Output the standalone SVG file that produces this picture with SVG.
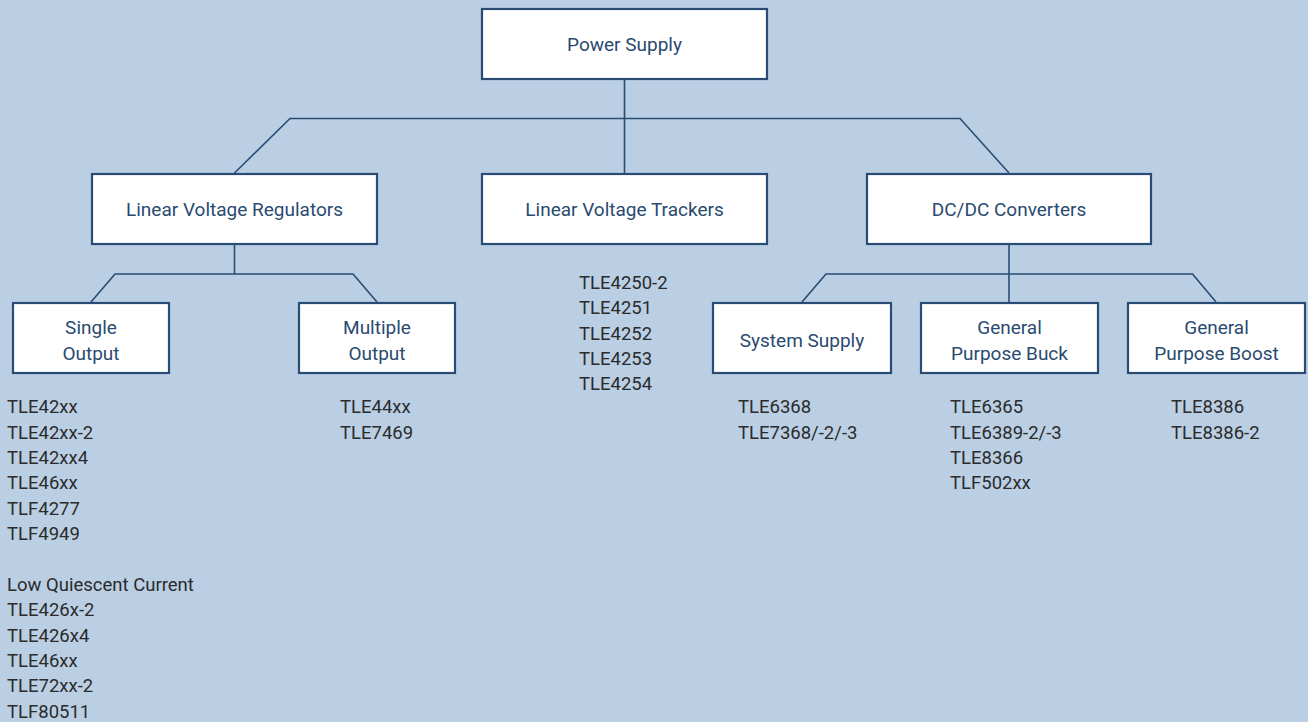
<svg xmlns="http://www.w3.org/2000/svg" width="1308" height="722" viewBox="0 0 1308 722">
<style>
.box{fill:#ffffff;stroke:#284c74;stroke-width:2.2}
.lbl{font-family:Roboto,"Liberation Sans",sans-serif;font-size:19px;fill:#2a4a70;text-anchor:middle}
.lst{font-family:Roboto,"Liberation Sans",sans-serif;font-size:18.5px;fill:#2b2b2b}
.con{fill:none;stroke:#284c74;stroke-width:1.6}
</style>
<rect x="0" y="0" width="1308" height="722" fill="#bacfe3"/>
<g id="connectors">
<path class="con" d="M624.5,80 V173"/>
<path class="con" d="M234.5,173 L290,118.5 H960 L1009,173"/>
<path class="con" d="M234.5,245 V274"/>
<path class="con" d="M91,302 L115,274 H353 L377,302"/>
<path class="con" d="M1009,245 V302"/>
<path class="con" d="M802,302 L826,274 H1192.5 L1216,302"/>
</g>
<g id="power-supply">
<rect class="box" x="482" y="9" width="285" height="70"/>
<text class="lbl" x="624.5" y="50.5">Power Supply</text>
</g>
<g id="linear-voltage-regulators">
<rect class="box" x="92" y="174" width="285" height="70"/>
<text class="lbl" x="234.5" y="215.5">Linear Voltage Regulators</text>
</g>
<g id="linear-voltage-trackers">
<rect class="box" x="482" y="174" width="285" height="70"/>
<text class="lbl" x="624.5" y="215.5">Linear Voltage Trackers</text>
</g>
<g id="dcdc-converters">
<rect class="box" x="867" y="174" width="284" height="70"/>
<text class="lbl" x="1009" y="215.5">DC/DC Converters</text>
</g>
<g id="single-output">
<rect class="box" x="13" y="303" width="156" height="70"/>
<text class="lbl" x="91" y="333.5">Single</text>
<text class="lbl" x="91" y="359.5">Output</text>
</g>
<g id="multiple-output">
<rect class="box" x="299" y="303" width="156" height="70"/>
<text class="lbl" x="377" y="333.5">Multiple</text>
<text class="lbl" x="377" y="359.5">Output</text>
</g>
<g id="system-supply">
<rect class="box" x="713" y="303" width="178" height="70"/>
<text class="lbl" x="802" y="346.5">System Supply</text>
</g>
<g id="general-purpose-buck">
<rect class="box" x="921" y="303" width="177" height="70"/>
<text class="lbl" x="1009.5" y="333.5">General</text>
<text class="lbl" x="1009.5" y="359.5">Purpose Buck</text>
</g>
<g id="general-purpose-boost">
<rect class="box" x="1128" y="303" width="177" height="70"/>
<text class="lbl" x="1216.5" y="333.5">General</text>
<text class="lbl" x="1216.5" y="359.5">Purpose Boost</text>
</g>
<g id="list-single">
<text class="lst" x="7" y="413.3">TLE42xx</text>
<text class="lst" x="7" y="438.7">TLE42xx-2</text>
<text class="lst" x="7" y="464">TLE42xx4</text>
<text class="lst" x="7" y="489.4">TLE46xx</text>
<text class="lst" x="7" y="514.7">TLF4277</text>
<text class="lst" x="7" y="540.1">TLF4949</text>
<text class="lst" x="7" y="590.8">Low Quiescent Current</text>
<text class="lst" x="7" y="616.1">TLE426x-2</text>
<text class="lst" x="7" y="641.5">TLE426x4</text>
<text class="lst" x="7" y="666.8">TLE46xx</text>
<text class="lst" x="7" y="692.2">TLE72xx-2</text>
<text class="lst" x="7" y="717.5">TLF80511</text>
</g>
<g id="list-multiple">
<text class="lst" x="340" y="413.3">TLE44xx</text>
<text class="lst" x="340" y="438.7">TLE7469</text>
</g>
<g id="list-trackers">
<text class="lst" x="579" y="289">TLE4250-2</text>
<text class="lst" x="579" y="314.4">TLE4251</text>
<text class="lst" x="579" y="339.7">TLE4252</text>
<text class="lst" x="579" y="365.1">TLE4253</text>
<text class="lst" x="579" y="390.4">TLE4254</text>
</g>
<g id="list-system">
<text class="lst" x="738" y="413.3">TLE6368</text>
<text class="lst" x="738" y="438.7">TLE7368/-2/-3</text>
</g>
<g id="list-buck">
<text class="lst" x="950" y="413.3">TLE6365</text>
<text class="lst" x="950" y="438.7">TLE6389-2/-3</text>
<text class="lst" x="950" y="464">TLE8366</text>
<text class="lst" x="950" y="489.4">TLF502xx</text>
</g>
<g id="list-boost">
<text class="lst" x="1171" y="413.3">TLE8386</text>
<text class="lst" x="1171" y="438.7">TLE8386-2</text>
</g>
</svg>
